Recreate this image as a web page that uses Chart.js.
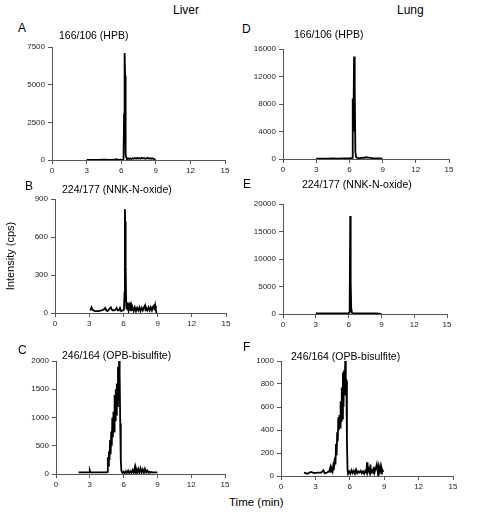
<!DOCTYPE html>
<html>
<head>
<meta charset="utf-8">
<script src="https://cdn.jsdelivr.net/npm/chart.js@4"></script>
<style>
  body { margin: 0; background: #fff; font-family: "Liberation Sans", Arial, sans-serif; color: #000; }
  #page { position: relative; width: 480px; height: 512px; overflow: hidden; }
  .box { position: absolute; }
  .txt { position: absolute; white-space: nowrap; line-height: 1; }
</style>
</head>
<body>
<div id="page"></div>
<script>
// panel A - liver, 166/106 (HPB)
let liverHpbTime = [3.0, 3.5, 4.0, 4.5, 5.0, 5.5, 5.6, 5.65, 6.0, 6.2, 6.25, 6.28, 6.31, 6.34, 6.37, 6.4, 6.45, 6.5, 6.6, 6.7, 6.8, 6.9, 7.0, 7.1, 7.2, 7.3, 7.4, 7.5, 7.6, 7.7, 7.8, 7.9, 8.0, 8.1, 8.2, 8.3, 8.4, 8.5, 8.6, 8.7, 8.8, 8.9, 8.95]
let liverHpbCps = [5, 10, 5, 15, 10, 20, 60, 10, 15, 30, 3100, 1500, 7100, 5600, 900, 300, 150, 80, 110, 60, 100, 70, 120, 80, 130, 90, 140, 100, 120, 90, 150, 110, 120, 80, 100, 140, 90, 120, 80, 110, 70, 60, 0]

// panel B - liver, 224/177 (NNK-N-oxide)
let liverNnkTime = [3.1, 3.2, 3.3, 3.5, 3.8, 4.1, 4.3, 4.4, 4.5, 4.6, 4.8, 4.9, 5.0, 5.1, 5.3, 5.4, 5.5, 5.6, 5.7, 5.8, 5.95, 6.05, 6.1, 6.13, 6.16, 6.2, 6.24, 6.28, 6.32, 6.36, 6.4, 6.45, 6.5, 6.55, 6.6, 6.65, 6.7, 6.75, 6.8, 6.9, 7.0, 7.1, 7.2, 7.3, 7.4, 7.5, 7.6, 7.7, 7.8, 7.9, 7.95, 8.0, 8.1, 8.2, 8.3, 8.4, 8.5, 8.6, 8.7, 8.75, 8.8, 8.85, 8.9]
let liverNnkCps = [20, 45, 25, 15, 15, 20, 30, 40, 20, 15, 35, 45, 25, 20, 25, 40, 20, 20, 40, 15, 20, 25, 160, 820, 720, 370, 80, 30, 85, 20, 80, 30, 75, 20, 85, 15, 50, 20, 45, 15, 45, 15, 40, 20, 45, 15, 40, 20, 45, 60, 15, 40, 20, 45, 20, 45, 20, 50, 60, 20, 55, 25, 0]

// panel C - liver, 246/164 (OPB-bisulfite)
let liverOpbTime = [2.0, 2.5, 2.95, 3.0, 3.05, 3.5, 4.0, 4.5, 4.56, 4.6, 4.65, 4.7, 4.75, 4.8, 4.85, 4.9, 4.95, 5.0, 5.05, 5.1, 5.15, 5.2, 5.25, 5.3, 5.35, 5.4, 5.45, 5.5, 5.55, 5.6, 5.65, 5.7, 5.75, 5.8, 5.9, 6.0, 6.1, 6.2, 6.3, 6.4, 6.5, 6.6, 6.7, 6.8, 6.9, 7.0, 7.05, 7.1, 7.2, 7.3, 7.4, 7.5, 7.6, 7.7, 7.8, 7.9, 8.0, 8.1, 8.2, 8.3, 8.4, 8.5, 8.6, 8.7, 8.8, 9.0]
let liverOpbCps = [30, 30, 30, 60, 30, 30, 30, 30, 40, 300, 150, 400, 250, 600, 350, 750, 500, 1000, 650, 1100, 750, 1400, 950, 1500, 1050, 1600, 1200, 1900, 1300, 2000, 1750, 900, 250, 60, 20, 40, 10, 50, 20, 60, 15, 50, 20, 70, 30, 120, 20, 100, 30, 90, 20, 100, 30, 80, 20, 90, 30, 60, 20, 40, 25, 35, 25, 30, 30, 30]

// panel D - lung, 166/106 (HPB)
let lungHpbTime = [3.0, 3.5, 4.0, 4.5, 5.0, 5.5, 6.0, 6.25, 6.3, 6.36, 6.42, 6.48, 6.54, 6.6, 6.7, 6.9, 7.1, 7.3, 7.5, 7.7, 7.9, 8.1, 8.3, 8.5, 8.7, 9.0]
let lungHpbCps = [50, 60, 50, 70, 60, 80, 90, 150, 8800, 4000, 14900, 10400, 1000, 300, 150, 120, 150, 180, 250, 200, 150, 120, 100, 90, 80, 0]

// panel E - lung, 224/177 (NNK-N-oxide)
let lungNnkTime = [3.0, 3.5, 4.0, 4.5, 5.0, 5.5, 6.0, 6.06, 6.1, 6.15, 6.19, 6.24, 6.28, 6.32, 6.4, 6.6, 7.0, 7.5, 8.0, 8.5, 9.0]
let lungNnkCps = [100, 120, 100, 130, 110, 120, 150, 300, 2300, 17800, 6000, 800, 400, 200, 150, 120, 100, 110, 100, 90, 0]

// panel F - lung, 246/164 (OPB-bisulfite)
let lungOpbTime = [2.0, 2.3, 2.6, 2.9, 3.2, 3.5, 3.7, 3.8, 4.0, 4.2, 4.3, 4.35, 4.4, 4.5, 4.55, 4.6, 4.7, 4.75, 4.8, 4.85, 4.9, 4.95, 5.0, 5.05, 5.1, 5.15, 5.2, 5.25, 5.3, 5.35, 5.4, 5.45, 5.5, 5.55, 5.6, 5.65, 5.7, 5.75, 5.8, 5.85, 5.95, 6.05, 6.15, 6.25, 6.35, 6.45, 6.55, 6.65, 6.75, 6.85, 6.95, 7.05, 7.15, 7.25, 7.35, 7.45, 7.5, 7.55, 7.65, 7.75, 7.8, 7.85, 7.95, 8.05, 8.1, 8.15, 8.25, 8.35, 8.45, 8.5, 8.55, 8.65, 8.75, 8.8, 8.85, 8.95]
let lungOpbCps = [30, 20, 35, 25, 30, 30, 50, 25, 30, 40, 75, 30, 70, 40, 80, 50, 160, 100, 280, 180, 380, 300, 510, 400, 530, 420, 650, 480, 770, 500, 900, 600, 920, 700, 1000, 850, 830, 310, 60, 20, 40, 20, 50, 25, 45, 20, 55, 25, 40, 30, 45, 25, 40, 20, 45, 30, 120, 30, 60, 25, 100, 30, 50, 25, 80, 30, 60, 100, 25, 70, 30, 85, 20, 60, 40, 50]

let timeTicks = [0, 3, 6, 9, 12, 15]

let page = document.getElementById('page')

function addText(str, x, y, size, extra) {
    let d = document.createElement('div')
    d.className = 'txt'
    d.textContent = str
    d.style.left = x + 'px'
    d.style.top = y + 'px'
    d.style.fontSize = size + 'px'
    if (extra) Object.assign(d.style, extra)
    page.append(d)
}

// area = plot rectangle in page pixels
function renderPanel(area, times, cps, yMax, yStep) {
    let padL = 45, padT = 8, padR = 10, padB = 20
    let box = document.createElement('div')
    box.className = 'box'
    box.style.left = (area.l - padL) + 'px'
    box.style.top = (area.t - padT) + 'px'
    box.style.width = (area.r - area.l + padL + padR) + 'px'
    box.style.height = (area.b - area.t + padT + padB) + 'px'
    let canvas = document.createElement('canvas')
    box.append(canvas)
    page.append(box)

    let tickFont = { family: '"Liberation Sans", Arial, sans-serif', size: 8 }
    new Chart(canvas.getContext('2d'), {
        type: 'line',
        data: {
            datasets: [{
                data: times.map((t, i) => ({ x: t, y: cps[i] })),
                borderColor: '#000',
                borderWidth: 1.8,
                pointRadius: 0,
                tension: 0,
                fill: false
            }]
        },
        options: {
            responsive: true,
            maintainAspectRatio: false,
            animation: false,
            layout: { padding: { top: padT, right: padR, left: 0, bottom: 0 } },
            plugins: { legend: { display: false }, tooltip: { enabled: false } },
            scales: {
                x: {
                    type: 'linear', min: 0, max: 15,
                    afterBuildTicks: s => { s.ticks = timeTicks.map(v => ({ value: v })) },
                    afterFit: s => { s.height = padB },
                    ticks: { font: tickFont, color: '#222', padding: 2, maxRotation: 0, callback: v => String(v) },
                    grid: { drawOnChartArea: false, tickLength: 4, color: '#555' },
                    border: { color: '#555' }
                },
                y: {
                    min: 0, max: yMax,
                    afterFit: s => { s.width = padL },
                    ticks: { stepSize: yStep, font: tickFont, color: '#222', padding: 3, callback: v => String(v) },
                    grid: { drawOnChartArea: false, tickLength: 4, color: '#555' },
                    border: { color: '#555' }
                }
            }
        }
    })
}

renderPanel({ l: 52, t: 47, r: 225, b: 160 }, liverHpbTime, liverHpbCps, 7500, 2500)
renderPanel({ l: 55, t: 199, r: 226, b: 313 }, liverNnkTime, liverNnkCps, 900, 300)
renderPanel({ l: 56, t: 361, r: 225, b: 474 }, liverOpbTime, liverOpbCps, 2000, 500)
renderPanel({ l: 283, t: 49, r: 449, b: 159 }, lungHpbTime, lungHpbCps, 16000, 4000)
renderPanel({ l: 283, t: 204, r: 447, b: 314 }, lungNnkTime, lungNnkCps, 20000, 5000)
renderPanel({ l: 281, t: 361, r: 453, b: 476 }, lungOpbTime, lungOpbCps, 1000, 200)

addText('Liver', 173, 4, 12)
addText('Lung', 397, 4, 12)
addText('A', 18, 22, 12)
addText('B', 25, 180, 12)
addText('C', 18, 344, 12)
addText('D', 242, 23, 12)
addText('E', 243, 178, 12)
addText('F', 243, 341, 12)
addText('166/106 (HPB)', 59, 30, 10.5)
addText('224/177 (NNK-N-oxide)', 62, 184, 10.5)
addText('246/164 (OPB-bisulfite)', 62, 350, 10.5)
addText('166/106 (HPB)', 294, 29, 10.5)
addText('224/177 (NNK-N-oxide)', 302, 179, 10.5)
addText('246/164 (OPB-bisulfite)', 291, 351, 10.5)
addText('Time (min)', 229, 497, 11.5)
addText('Intensity (cps)', 10, 256, 11, { transform: 'translate(-50%, -50%) rotate(-90deg)' })
</script>
</body>
</html>
